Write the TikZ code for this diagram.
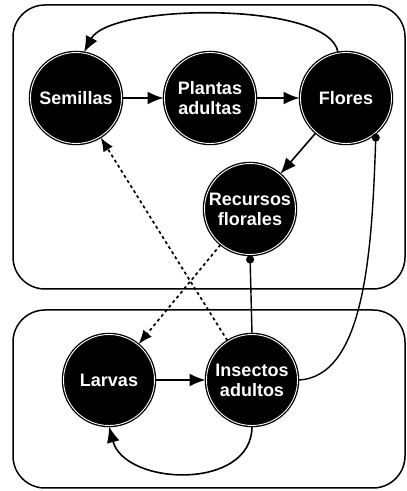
\documentclass[tikz,border=0pt]{standalone}
\usepackage{fontspec}
\setmainfont{Liberation Sans}
\usetikzlibrary{arrows.meta}
\begin{document}
\begin{tikzpicture}[x=1pt,y=1pt,
  stage/.style={circle, minimum size=91pt, inner sep=0pt, outer sep=1pt,
    fill=black, draw=black, line width=1.3pt, double=white, double distance=0.9pt,
    text=white, align=center, font=\bfseries\fontsize{18}{20}\selectfont},
  panel/.style={draw=black, line width=1.5pt, rounded corners=32pt},
  flow/.style={line width=1.6pt, -{Latex[length=16pt,width=13pt]}},
  influence/.style={line width=1.7pt, dash pattern=on 3pt off 3pt, -{Latex[length=14pt,width=11pt]}},
  dotlink/.style={line width=1.4pt, -{Circle[length=8pt]}}
]
\useasboundingbox (0,0) rectangle (407,491);
\draw[panel] (13,202) rectangle (405,486);
\draw[panel] (13,3) rectangle (405,181);

\node[stage] (semillas) at (76,393) {Semillas};
\node[stage] (plantas) at (210,393) {Plantas\\adultas};
\node[stage] (flores) at (346,393) {Flores};
\node[stage] (recursos) at (250,282) {Recursos\\florales};
\node[stage] (larvas) at (109,111) {Larvas};
\node[stage] (insectos) at (252,111) {Insectos\\adultos};

\draw[flow] (semillas) -- (plantas);
\draw[flow] (plantas) -- (flores);
\draw[flow] (flores) -- (recursos);
\draw[flow] (flores.100) .. controls (330,490) and (110,488) .. (semillas.80);
\draw[flow] (larvas) -- (insectos);
\draw[flow] (insectos.south) .. controls (252,0) and (125,5) .. (larvas.south);

\draw[influence] (insectos) -- (semillas);
\draw[influence] (recursos) -- (larvas);

\draw[dotlink] (insectos.north) -- (recursos.south);
\draw[dotlink] (insectos.east) .. controls (365,114) and (372,241) .. (flores.-50);
\end{tikzpicture}
\end{document}
